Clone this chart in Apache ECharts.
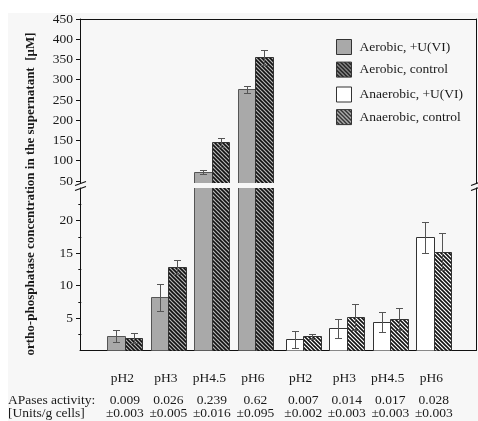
<!DOCTYPE html>
<html>
<head>
<meta charset="utf-8">
<script src="https://cdn.jsdelivr.net/npm/echarts@6/dist/echarts.min.js"></script>
<style>
html, body { margin: 0; padding: 0; background: #fff; }
#chart {
  width: 478px;
  height: 421px;
  background:
    linear-gradient(#fff, #fff) 0 0 / 8px 100% no-repeat,
    linear-gradient(#fff, #fff) 0 0 / 100% 13px no-repeat,
    #f7f7f7;
}
</style>
</head>
<body>
<div id="chart"></div>
<script>
// categories along the x axis (aerobic group, then anaerobic group)
var phLabels = ["pH2", "pH3", "pH4.5", "pH6", "pH2", "pH3", "pH4.5", "pH6"];
var xPos = [1, 2, 3, 4, 5.1, 6.1, 7.1, 8.1];
var apaseMean = ["0.009", "0.026", "0.239", "0.62", "0.007", "0.014", "0.017", "0.028"];
var apaseErr = ["±0.003", "±0.005", "±0.016", "±0.095", "±0.002", "±0.003", "±0.003", "±0.003"];

// ortho-phosphate concentration [uM], mean and error
var aerobicU = [2.2, 8.2, 71, 276];
var aerobicUErr = [0.9, 2.1, 5, 8];
var aerobicCtrl = [1.9, 12.8, 146, 355];
var aerobicCtrlErr = [0.8, 1.1, 11, 19];
var anaerobicU = [1.7, 3.4, 4.4, 17.4];
var anaerobicUErr = [1.3, 1.5, 1.55, 2.35];
var anaerobicCtrl = [2.2, 5.1, 4.8, 15.2];
var anaerobicCtrlErr = [0.4, 2.0, 1.7, 2.85];

// tick labels
var upperTicks = [50, 100, 150, 200, 250, 300, 350, 400, 450];
var lowerTicks = [5, 10, 15, 20];
var lowerMinorTicks = [2.5, 7.5, 12.5, 17.5, 22.5];

var FONT = '"Liberation Serif", "Times New Roman", serif';
var TEXT = "#1a1a1a";
var AXIS = "#111";
var BAR_W = 0.4;

function makeHatch(bg, fg, size, width) {
  var c = document.createElement("canvas");
  c.width = size;
  c.height = size;
  var ctx = c.getContext("2d");
  ctx.fillStyle = bg;
  ctx.fillRect(0, 0, size, size);
  ctx.strokeStyle = fg;
  ctx.lineWidth = width;
  for (var k = -size; k <= size; k += size) {
    ctx.beginPath();
    ctx.moveTo(k - 1, -1);
    ctx.lineTo(k + size + 1, size + 1);
    ctx.stroke();
  }
  return { image: c, repeat: "repeat" };
}

var styles = {
  aerobicU: { fill: "#a9a9a9", stroke: "#555", lineWidth: 1 },
  aerobicCtrl: { fill: makeHatch("#b8b8b8", "#111", 4, 1.6), stroke: "#333", lineWidth: 1 },
  anaerobicU: { fill: "#ffffff", stroke: "#333", lineWidth: 1 },
  anaerobicCtrl: { fill: makeHatch("#ffffff", "#111", 4, 1.6), stroke: "#333", lineWidth: 1 }
};

function pairs(xs, vals, errs) {
  return vals.map(function (v, i) { return [xs[i], v, errs[i]]; });
}

function barRenderer(side, st) {
  return function (params, api) {
    var x = api.value(0), v = api.value(1), e = api.value(2);
    var x0 = side < 0 ? x - BAR_W : x;
    var p0 = api.coord([x0, 0]);
    var p1 = api.coord([x0 + BAR_W, v]);
    var left = Math.round(p0[0]) + 0.5;
    var right = Math.round(p1[0]) + 0.5;
    var top = Math.round(p1[1]) + 0.5;
    var bottom = Math.round(p0[1]) + 0.5;
    var xc = Math.round(api.coord([x0 + BAR_W / 2, 0])[0]) + 0.5;
    var eTop = Math.round(api.coord([x, v + e])[1]) + 0.5;
    var eBot = Math.round(api.coord([x, v - e])[1]) + 0.5;
    var cap = 3.5;
    var es = { stroke: "#555", lineWidth: 1 };
    return {
      type: "group",
      children: [
        { type: "rect", shape: { x: left, y: top, width: right - left, height: bottom - top }, style: st },
        { type: "line", shape: { x1: xc, y1: eTop, x2: xc, y2: eBot }, style: es },
        { type: "line", shape: { x1: xc - cap, y1: eTop, x2: xc + cap, y2: eTop }, style: es },
        { type: "line", shape: { x1: xc - cap, y1: eBot, x2: xc + cap, y2: eBot }, style: es }
      ]
    };
  };
}

var groups = [
  { name: "Aerobic, +U(VI)", side: -1, st: styles.aerobicU, data: pairs(xPos.slice(0, 4), aerobicU, aerobicUErr) },
  { name: "Aerobic, control", side: 1, st: styles.aerobicCtrl, data: pairs(xPos.slice(0, 4), aerobicCtrl, aerobicCtrlErr) },
  { name: "Anaerobic, +U(VI)", side: -1, st: styles.anaerobicU, data: pairs(xPos.slice(4), anaerobicU, anaerobicUErr) },
  { name: "Anaerobic, control", side: 1, st: styles.anaerobicCtrl, data: pairs(xPos.slice(4), anaerobicCtrl, anaerobicCtrlErr) }
];

var series = [];
[[0, 0], [1, 2]].forEach(function (ax) {
  groups.forEach(function (g) {
    series.push({
      name: g.name,
      type: "custom",
      xAxisIndex: ax[0],
      yAxisIndex: ax[1],
      clip: true,
      encode: { x: 0, y: 1 },
      itemStyle: { color: g.st.fill, borderColor: g.st.stroke, borderWidth: 1 },
      renderItem: barRenderer(g.side, g.st),
      data: g.data
    });
  });
});

function legendData(list) {
  return list.map(function (g) {
    return { name: g.name, icon: "rect", itemStyle: { color: g.st.fill, borderColor: "#333", borderWidth: 1 } };
  });
}

function hiddenY(grid, min, max, pos) {
  return {
    type: "value", gridIndex: grid, min: min, max: max, position: pos,
    axisLine: { show: true, onZero: false, lineStyle: { color: AXIS, width: 1 } },
    axisTick: { show: false }, axisLabel: { show: false }, splitLine: { show: false }
  };
}

var xMin = -0.03, xMax = 9.07;

var chart = echarts.init(document.getElementById("chart"));
chart.setOption({
  backgroundColor: "transparent",
  animation: false,
  textStyle: { fontFamily: FONT, color: TEXT },
  grid: [
    { left: 80, right: 2, top: 19, height: 164 },
    { left: 80, right: 2, top: 188, height: 162.5 }
  ],
  xAxis: [
    {
      type: "value", gridIndex: 0, min: xMin, max: xMax, position: "top",
      axisLine: { show: true, onZero: false, lineStyle: { color: AXIS, width: 1 } },
      axisTick: { show: false }, axisLabel: { show: false }, splitLine: { show: false }
    },
    {
      type: "value", gridIndex: 1, min: xMin, max: xMax, position: "bottom",
      axisLine: { show: true, onZero: false, lineStyle: { color: AXIS, width: 1 } },
      axisTick: { show: false }, splitLine: { show: false },
      axisLabel: {
        customValues: xPos,
        margin: 21,
        formatter: function (val) {
          var i = 0;
          xPos.forEach(function (p, k) { if (Math.abs(p - val) < 1e-6) i = k; });
          return "{a|" + phLabels[i] + "}\n{s| }\n{b|" + apaseMean[i] + "}\n{b|" + apaseErr[i] + "}";
        },
        rich: {
          a: { fontFamily: FONT, fontSize: 13.5, color: TEXT, lineHeight: 14, padding: [0, 5, 0, 0] },
          s: { fontSize: 6, lineHeight: 8 },
          b: { fontFamily: FONT, fontSize: 13.5, color: TEXT, lineHeight: 13 }
        }
      }
    }
  ],
  yAxis: [
    {
      type: "value", gridIndex: 0, min: 45, max: 450, position: "left",
      axisLine: { show: true, onZero: false, lineStyle: { color: AXIS, width: 1 } },
      axisTick: { show: true, customValues: upperTicks, length: 4, lineStyle: { color: AXIS } },
      axisLabel: { customValues: upperTicks, margin: 7, fontFamily: FONT, fontSize: 13.5, color: TEXT },
      splitLine: { show: false }
    },
    hiddenY(0, 45, 450, "right"),
    {
      type: "value", gridIndex: 1, min: 0, max: 25, position: "left",
      axisLine: { show: true, onZero: false, lineStyle: { color: AXIS, width: 1 } },
      axisTick: { show: true, customValues: lowerTicks, length: 4, lineStyle: { color: AXIS } },
      axisLabel: { customValues: lowerTicks, margin: 7, fontFamily: FONT, fontSize: 13.5, color: TEXT },
      splitLine: { show: false }
    },
    {
      type: "value", gridIndex: 1, min: 0, max: 25, position: "left",
      axisLine: { show: false },
      axisTick: { show: true, customValues: lowerMinorTicks, length: 3, lineStyle: { color: AXIS } },
      axisLabel: { show: false }, splitLine: { show: false }
    },
    hiddenY(1, 0, 25, "right")
  ],
  legend: [
    {
      orient: "vertical", left: 331, top: 34, itemWidth: 15, itemHeight: 15, itemGap: 6.6,
      selectedMode: false,
      textStyle: { fontFamily: FONT, fontSize: 13.5, color: TEXT, padding: [0, 0, 0, 3] },
      data: legendData(groups.slice(0, 2))
    },
    {
      orient: "vertical", left: 331, top: 81.5, itemWidth: 15, itemHeight: 15, itemGap: 6.6,
      selectedMode: false,
      textStyle: { fontFamily: FONT, fontSize: 13.5, color: TEXT, padding: [0, 0, 0, 3] },
      data: legendData(groups.slice(2))
    }
  ],
  graphic: [
    {
      type: "text", x: 31, y: 194, rotation: Math.PI / 2,
      style: {
        text: "ortho-phosphatase concentration in the supernatant  [\u03bcM]",
        font: "bold 13px " + FONT, fill: TEXT, textAlign: "center", textVerticalAlign: "middle"
      }
    },
    { type: "text", x: 8, y: 400, style: { text: "APases activity:", font: "13.5px " + FONT, fill: TEXT, textVerticalAlign: "middle" } },
    { type: "text", x: 8, y: 413, style: { text: "[Units/g cells]", font: "13.5px " + FONT, fill: TEXT, textVerticalAlign: "middle" } },
    { type: "line", shape: { x1: 75, y1: 185.5, x2: 86, y2: 181.5 }, style: { stroke: AXIS, lineWidth: 1.2 } },
    { type: "line", shape: { x1: 75, y1: 190.5, x2: 86, y2: 186.5 }, style: { stroke: AXIS, lineWidth: 1.2 } },
    { type: "line", shape: { x1: 471, y1: 185.5, x2: 482, y2: 181.5 }, style: { stroke: AXIS, lineWidth: 1.2 } },
    { type: "line", shape: { x1: 471, y1: 190.5, x2: 482, y2: 186.5 }, style: { stroke: AXIS, lineWidth: 1.2 } }
  ],
  series: series
});
</script>
</body>
</html>
